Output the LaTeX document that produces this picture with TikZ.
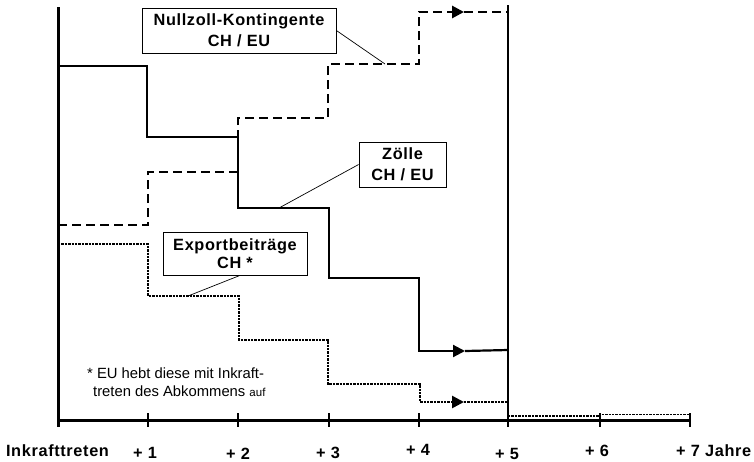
\documentclass[tikz,border=0pt]{standalone}
\usepackage{fontspec}
\setmainfont{Liberation Sans}
\newfontfamily\labelfont[LetterSpace=4]{Liberation Sans}
\usetikzlibrary{arrows.meta}

\begin{document}
\begin{tikzpicture}[x=1pt,y=-1pt,
        box/.style={draw,fill=white,line width=0.8pt,align=center,inner sep=0pt,
            font=\labelfont\bfseries\fontsize{16.3}{21}\selectfont},
        lbl/.style={anchor=base,inner sep=0pt,
            font=\labelfont\bfseries\fontsize{16.3}{18}\selectfont},
        note/.style={anchor=base west,inner sep=0pt,font=\fontsize{14.8}{18}\selectfont},
        tip/.style={-{Triangle[length=12pt,width=12pt]}},
        zline/.style={line width=2.2pt},
        nline/.style={line width=2.8pt,dash pattern=on 9pt off 5pt},
        eline/.style={line width=2.6pt,dash pattern=on 2.4pt off 1pt}]
        \useasboundingbox (0,0) rectangle (754,461);

        % axes
        \draw[line width=3pt] (58,7) -- (58,427);
        \draw[line width=3pt] (58,420) -- (690,420);
        \foreach \x in {148,238,329,419,508,600,690}
            \draw[line width=2.6pt] (\x,413) -- (\x,427);
        \draw[line width=1.5pt] (508,5) -- (508,425);

        % Zoelle
        \draw[zline,tip] (58,66) -| (147,137) -| (238,208) -| (329,278) -| (419,351) -- (465,351);
        \draw[zline] (465,351) -- (508,350);

        % Nullzoll-Kontingente
        \draw[nline,tip] (58,225) -| (148,172) -| (238,118) -| (328,64) -| (419,12) -- (464,12);
        \draw[nline] (464,12) -- (508,12);

        % Exportbeitraege
        \draw[eline,tip] (58,244) -| (148,296) -| (239,340) -| (328,384) -| (420,402) -- (464,402);
        \draw[eline] (464,402) -- (508,402);
        \draw[line width=1.6pt,dash pattern=on 2.4pt off 1pt]
            (508,416) -- (600,416) -- (600,414.5) -- (690,414.5);

        \node[box,minimum width=194pt,minimum height=45pt] (nk) at (239,30.5)
            {Nullzoll-Kontingente\\CH / EU};
        \node[box,minimum width=87pt,minimum height=45pt] (zo) at (402.5,164.5)
            {Zölle\\CH / EU};
        \node[box,minimum width=144pt,minimum height=43pt,
            font=\labelfont\bfseries\fontsize{16.3}{18}\selectfont] (ex) at (235,253.5)
            {Exportbeiträge\\CH *};

        \coordinate (nkend) at (385,64);
        \coordinate (zoend) at (279,208);
        \coordinate (exend) at (188,296);
        \path[draw,line width=0.7pt]
            (nk.east) edge (nkend)
            (zo.west) edge (zoend)
            ([xshift=5pt]ex.south) edge (exend)
        ;

        \node[note] (fn1) at (87,378) {* EU hebt diese mit Inkraft-};
        \node[note] (fn2) at (93,396)
            {treten des Abkommens {\fontsize{11.5}{13}\selectfont auf}};

        \node[lbl] (t0) at (57.5,456) {Inkrafttreten};
        \node[lbl] (t1) at (145,458) {+ 1};
        \node[lbl] (t2) at (238,459) {+ 2};
        \node[lbl] (t3) at (328,458) {+ 3};
        \node[lbl] (t4) at (418,455) {+ 4};
        \node[lbl] (t5) at (507,459) {+ 5};
        \node[lbl] (t6) at (597,456) {+ 6};
        \node[lbl,anchor=base west] (t7) at (676,456) {+ 7 Jahre};
    \end{tikzpicture}
\end{document}
